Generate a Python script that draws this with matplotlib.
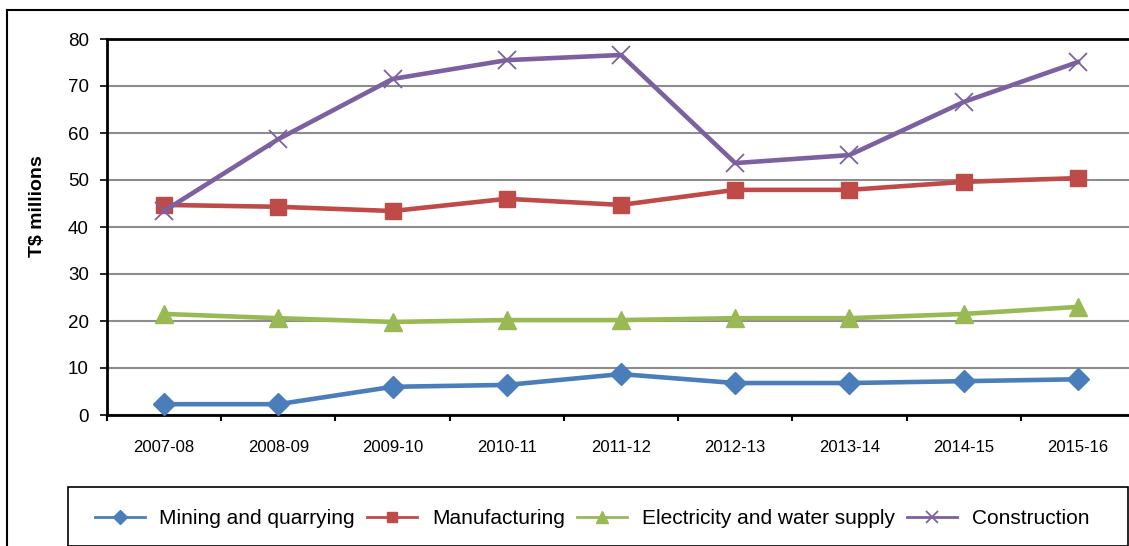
import numpy as np
import matplotlib.pyplot as plt
from matplotlib.patches import Rectangle
from matplotlib.lines import Line2D

plt.rcParams['font.family'] = ['Liberation Sans', 'DejaVu Sans']

years = ['2007-08', '2008-09', '2009-10', '2010-11', '2011-12',
         '2012-13', '2013-14', '2014-15', '2015-16']
mining = [2.3, 2.3, 6.0, 6.4, 8.7, 6.8, 6.8, 7.2, 7.6]
manufacturing = [44.7, 44.3, 43.4, 46.0, 44.7, 47.9, 47.9, 49.6, 50.4]
electricity = [21.5, 20.6, 19.8, 20.2, 20.2, 20.6, 20.6, 21.5, 23.0]
construction = [43.4, 58.7, 71.5, 75.5, 76.6, 53.6, 55.3, 66.6, 75.1]

series = [
    ('Mining and quarrying', mining, '#4A7EBB', 'D', 11),
    ('Manufacturing', manufacturing, '#BE4B48', 's', 12),
    ('Electricity and water supply', electricity, '#98B954', '^', 13),
    ('Construction', construction, '#7D60A0', 'x', 13),
]

W, H = 1129, 546
fig = plt.figure(figsize=(W / 100, H / 100), dpi=100)

# chart area border (only left and top edges fall inside the canvas)
fig.add_artist(Line2D([7 / W, 7 / W], [0, 1 - 10 / H], color='black', lw=1.5))
fig.add_artist(Line2D([7 / W, 1], [1 - 10 / H, 1 - 10 / H], color='black', lw=1.5))

ax = fig.add_axes([107 / W, 1 - 415 / H, (1135 - 107) / W, (415 - 39) / H])
x = np.arange(len(years))

handles = []
for name, vals, col, mk, ms in series:
    mew = 1.3 if mk == 'x' else 1
    ax.plot(x, vals, color=col, lw=3.3, marker=mk, ms=ms, mec=col, mew=mew,
            zorder=3)
    handles.append(Line2D([], [], color=col, lw=2, marker=mk, mec=col,
                          ms=ms * 0.62, mew=mew, label=name))

ax.set_xlim(-0.5, len(years) - 0.5)
ax.set_ylim(0, 80)
ax.set_yticks(range(0, 81, 10))
ax.yaxis.grid(True, color='#8c8c8c', lw=1.5)
ax.set_axisbelow(True)

ax.set_xticks(x)
ax.set_xticklabels(years, fontsize=12)
ax.tick_params(axis='x', which='major', length=0, pad=18)
ax.set_xticks(np.arange(-0.5, len(years), 1), minor=True)
ax.tick_params(axis='x', which='minor', length=4, width=1.5, direction='out')
ax.tick_params(axis='y', labelsize=13.5, length=5, width=1.2, pad=8)

for side in ['left', 'bottom', 'top']:
    ax.spines[side].set_linewidth(2)
ax.spines['right'].set_visible(False)

ax.set_ylabel('T$ millions', fontsize=14, fontweight='bold')
ax.yaxis.set_label_coords((46 - 107) / 1028, (415 - 206) / 376)

# legend box along the bottom
fig.add_artist(Rectangle((68 / W, 0), (1128 - 68) / W, (546 - 487) / H,
                         transform=fig.transFigure, fill=False,
                         edgecolor='black', lw=1.2))
fig.legend(handles=handles, loc='center', ncol=4, frameon=False,
           bbox_to_anchor=(592 / W, 1 - 519 / H), fontsize=15,
           handlelength=2.4, handletextpad=0.7, columnspacing=0.6)

fig.savefig('out.png', dpi=100)
